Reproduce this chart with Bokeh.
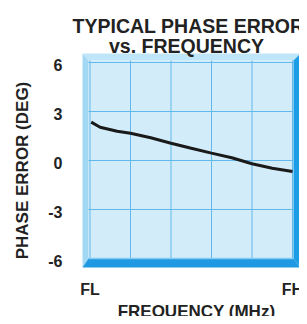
import math
from bokeh.plotting import figure
from bokeh.models import Range1d
from bokeh.core.properties import value
from bokeh.embed import file_html
from bokeh.resources import INLINE

# ---- data ----
freq_pos = [0.006, 0.05, 0.134, 0.2, 0.3, 0.4, 0.5, 0.6, 0.7, 0.8, 0.9, 1.0]
phase_err = [2.35, 2.04, 1.79, 1.67, 1.39, 1.06, 0.75, 0.45, 0.17, -0.20, -0.47, -0.67]
x_tick_pos = [0, 1]
x_tick_labels = ["FL", "FH"]
y_ticks = [-6, -3, 0, 3, 6]
y_tick_labels = ["-6", "-3", "0", "3", "6"]
x_grid = [0, 0.2, 0.4, 0.6, 0.8, 1.0]
title_lines = ["TYPICAL PHASE ERROR", "vs. FREQUENCY"]
x_title = "FREQUENCY (MHz)"
y_title = "PHASE ERROR (DEG)"

FONT = value("Liberation Sans")
TXT = "#222222"

# plotting frame fills the whole canvas
XPX, X0PX = 202.5, 89.5          # px per unit, page x of x=0
YPX, Y0PX = 16.333, 160.0        # px per unit, page y of y=0
OFF = 0                          # page offset of canvas
def dx(px):
    return (px - X0PX) / XPX
def dy(py):
    return (Y0PX - py) / YPX

W, H = 299, 316
p = figure(width=W, height=H, output_backend="svg", toolbar_location=None,
           x_range=Range1d(dx(OFF), dx(OFF + W)), y_range=Range1d(dy(OFF + H), dy(OFF)),
           min_border=0, background_fill_color="white",
           border_fill_color="white", outline_line_color=None)
p.xaxis.visible = False
p.yaxis.visible = False
p.grid.visible = False

# bevelled box
OX0, OX1, OY0, OY1 = dx(82), dx(300), dy(267), dy(53)
IX0, IX1, IY0, IY1 = dx(88), dx(293), dy(258), dy(60)
p.quad(left=IX0, right=IX1, bottom=IY0, top=IY1, color="#d3ecf9", line_width=0)
p.patch([OX0, OX1, IX1, IX0], [OY1, OY1, IY1, IY1], color="#bfe5f8", line_width=0)
p.patch([OX0, IX0, IX0, OX0], [OY1, IY1, IY0, OY0], color="#a3d8f5", line_width=0)
p.patch([OX1, IX1, IX1, OX1], [OY1, IY1, IY0, OY0], color="#1c9de6", line_width=0)
p.patch([OX0, OX1, IX1, IX0], [OY0, OY0, IY0, IY0], color="#1f9ae2", line_width=0)

# grid
p.segment(x0=x_grid, x1=x_grid, y0=[IY0] * len(x_grid), y1=[IY1] * len(x_grid),
          color="#62b8ea", line_width=1)
p.segment(x0=[IX0] * len(y_ticks), x1=[IX1] * len(y_ticks), y0=y_ticks, y1=y_ticks,
          color="#62b8ea", line_width=1)
p.line([IX0, IX1], [IY0, IY0], color="#86ccf1", line_width=1.5)

# curve
p.line(freq_pos, phase_err, color="#1a1a1a", line_width=3)

# tick labels
p.text(x=[dx(62)] * len(y_ticks), y=[t - 0.15 for t in y_ticks], text=y_tick_labels,
       text_align="right", text_baseline="middle", text_font=FONT,
       text_font_style="bold", text_font_size="16px", text_color=TXT)
p.text(x=x_tick_pos, y=[dy(289)] * len(x_tick_pos), text=x_tick_labels,
       text_align="center", text_baseline="alphabetic", text_font=FONT,
       text_font_style="bold", text_font_size="16px", text_color=TXT)

# axis titles
p.text(x=[dx(196)], y=[dy(311)], text=[x_title], text_align="center",
       text_baseline="alphabetic", text_font=FONT, text_font_style="bold",
       text_font_size="17px", text_color=TXT)
p.text(x=[dx(22)], y=[dy(170)], text=[y_title], angle=math.pi / 2,
       text_align="center", text_baseline="alphabetic", text_font=FONT,
       text_font_style="bold", text_font_size="17px", text_color=TXT)

# two-line chart title
p.text(x=[dx(188), dx(186)], y=[dy(25), dy(45)], text=title_lines,
       text_align="center", text_baseline="alphabetic", text_font=FONT,
       text_font_style="bold", text_font_size="19.5px", text_color=TXT)

open("out.html", "w").write(file_html(p, INLINE))
